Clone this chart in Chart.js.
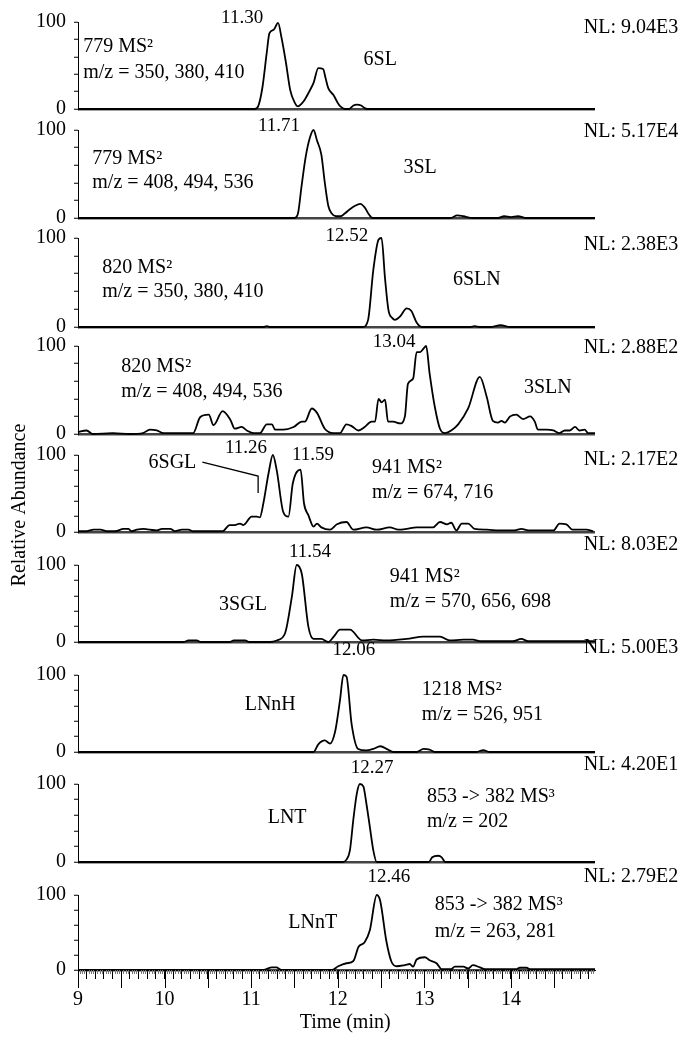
<!DOCTYPE html>
<html>
<head>
<meta charset="utf-8">
<script src="https://cdn.jsdelivr.net/npm/chart.js@4.4.1/dist/chart.umd.min.js"></script>
<style>
  html, body { margin: 0; padding: 0; background: #fff; }
  canvas { display: block; }
</style>
</head>
<body>
<canvas id="chrom" width="691" height="1044"></canvas>
<script>
// time axis (min)
const xMin = 9, xMax = 14.97;

// one trace per panel, top to bottom
const t6SL = [9, 11.04, 11.08, 11.13, 11.18, 11.21, 11.26, 11.31, 11.35, 11.40, 11.45, 11.50, 11.54, 11.58, 11.62, 11.67, 11.72, 11.775, 11.83, 11.86, 11.89, 11.95, 12.00, 12.03, 12.08, 12.13, 12.18, 12.22, 12.27, 12.31, 12.34, 14.97];
const a6SL = [0, 0, 3, 25, 65, 87, 91, 99, 82, 54, 22, 8, 3, 6, 11, 20, 30, 47, 46, 35, 24, 16, 7, 3, 0, 0, 4, 5, 4, 1, 0, 0];

const t3SL = [9, 11.50, 11.54, 11.58, 11.63, 11.68, 11.72, 11.76, 11.81, 11.85, 11.89, 11.93, 11.98, 12.03, 12.08, 12.14, 12.20, 12.26, 12.31, 12.36, 12.40, 13.30, 13.38, 13.45, 13.56, 13.85, 13.92, 14.00, 14.08, 14.18, 14.97];
const a3SL = [0, 0, 5, 35, 70, 92, 100, 88, 72, 40, 14, 5, 2, 2, 5, 10, 14, 16, 12, 4, 0, 0, 3, 2, 0, 0, 2, 1, 2, 0, 0];

const t6SLN = [9, 11.14, 11.18, 11.22, 12.29, 12.35, 12.41, 12.47, 12.505, 12.545, 12.585, 12.63, 12.66, 12.72, 12.795, 12.85, 12.91, 12.97, 13.53, 13.58, 13.64, 13.76, 13.88, 13.99, 14.97];
const a6SLN = [0, 0, 1, 0, 0, 8, 64, 98, 100, 55, 19, 10, 8, 12, 21, 18, 5, 0, 0, 1, 0, 0, 2, 0, 0];

const t3SLN = [9, 9.03, 9.10, 9.17, 9.40, 9.60, 9.75, 9.83, 9.91, 9.99,
  10.10, 10.33, 10.41, 10.51, 10.565, 10.67, 10.76, 10.81, 10.89, 10.95,
  11.03, 11.10, 11.18, 11.24, 11.275, 11.37, 11.49, 11.585, 11.62, 11.70,
  11.76, 11.85, 11.95, 12.025, 12.10, 12.16, 12.24, 12.31, 12.39, 12.43,
  12.47, 12.505, 12.545, 12.58, 12.64, 12.72, 12.775, 12.81, 12.87, 12.91,
  12.95, 12.99, 13.02, 13.06, 13.12, 13.18, 13.24, 13.31, 13.39, 13.505,
  13.64, 13.72, 13.79, 13.85, 13.89, 13.93, 13.99, 14.06, 14.14, 14.22,
  14.275, 14.31, 14.41, 14.49, 14.56, 14.62, 14.68, 14.74, 14.79, 14.85,
  14.89, 14.97];
const a3SLN = [2, 3, 4, 0, 1, 0, 1, 5, 4, 1,
  1, 1, 19, 22, 10, 26, 16, 6, 8, 4,
  1, 1, 11, 11, 5, 5, 8, 14, 14, 29,
  24, 6, 1, 1, 11, 9, 4, 8, 14, 14,
  40, 36, 39, 14, 14, 12, 20, 57, 63, 93,
  93, 97, 100, 69, 31, 6, 1, 4, 11, 29,
  65, 42, 15, 13, 15, 13, 20, 22, 17, 20,
  14, 5, 5, 4, 1, 4, 4, 8, 4, 5,
  1, 1];

const t6SGL = [9, 9.10, 9.18, 9.26, 9.33, 9.43, 9.525, 9.58, 9.62, 9.68,
  9.76, 9.83, 9.91, 9.97, 10.065, 10.12, 10.20, 10.275, 10.33, 10.67,
  10.75, 10.81, 10.87, 10.91, 11.005, 11.065, 11.10, 11.14, 11.20, 11.25,
  11.295, 11.37, 11.43, 11.48, 11.57, 11.61, 11.66, 11.72, 11.76, 11.81,
  11.91, 11.99, 12.10, 12.18, 12.33, 12.45, 12.60, 12.70, 12.795, 12.91,
  13.10, 13.18, 13.26, 13.31, 13.37, 13.43, 13.505, 13.58, 13.72, 13.87,
  14.04, 14.12, 14.20, 14.49, 14.56, 14.64, 14.71, 14.87, 14.95];
const a6SGL = [1, 1, 3, 3, 1, 1, 4, 4, 1, 3,
  4, 3, 2, 4, 4, 1, 3, 3, 1, 1,
  9, 9, 11, 9, 20, 20, 19, 37, 76, 100,
  80, 26, 20, 63, 81, 37, 22, 7, 11, 6,
  3, 10, 13, 3, 6, 3, 6, 3, 4, 6,
  6, 13, 10, 12, 2, 11, 11, 4, 3, 2,
  2, 4, 2, 2, 11, 10, 3, 3, 1];

const t3SGL = [9, 10.22, 10.275, 10.37, 10.42, 10.75, 10.80, 10.93, 10.98, 11.22,
  11.295, 11.39, 11.47, 11.525, 11.585, 11.66, 11.72, 11.81, 11.89, 11.96,
  12.025, 12.14, 12.28, 12.41, 12.56, 12.795, 12.99, 13.18, 13.29, 13.45,
  13.56, 13.64, 14.02, 14.12, 14.20, 14.97];
const a3SGL = [0, 0, 2, 2, 0, 0, 2, 2, 0, 0,
  2, 11, 59, 100, 88, 20, 4, 4, 0, 8,
  16, 16, 2, 3, 2, 4, 7, 7, 2, 3,
  3, 1, 1, 4, 1, 1];

const tLNnH = [9, 11.72, 11.775, 11.85, 11.91, 11.97, 12.025, 12.065, 12.10, 12.16, 12.235, 12.33, 12.41, 12.49, 12.58, 12.64, 12.91, 12.99, 13.06, 13.12, 13.60, 13.68, 13.75, 14.97];
const aLNnH = [0, 0, 10, 15, 11, 27, 67, 100, 98, 36, 4, 2, 4, 7.5, 3, 0, 0, 4, 3, 0, 0, 2.5, 0, 0];

const tLNT = [9, 12.06, 12.10, 12.14, 12.18, 12.22, 12.255, 12.295, 12.33, 12.37, 12.41, 12.45, 13.05, 13.09, 13.16, 13.20, 13.24, 14.97];
const aLNT = [0, 0, 3, 15, 55, 88, 100, 97, 75, 45, 15, 0, 0, 6, 8, 6, 0, 0];

const tLNnT = [9, 11.14, 11.24, 11.29, 11.35, 11.93, 12.005, 12.10, 12.18, 12.24,
  12.31, 12.37, 12.45, 12.49, 12.56, 12.62, 12.68, 12.775, 12.83, 12.87,
  12.91, 13.005, 13.06, 13.14, 13.20, 13.31, 13.35, 13.45, 13.505, 13.56,
  13.64, 13.70, 14.06, 14.10, 14.18, 14.22, 14.97];
const aLNnT = [0, 0, 3.5, 3.5, 0, 0, 5, 9, 12, 31,
  37, 53, 100, 92, 39, 11, 5, 6.6, 8, 4.4,
  14, 17, 13, 9, 1, 1, 4.4, 4.4, 2, 6.6,
  3.5, 1, 1, 3, 3, 1, 1];

const traces = [[t6SL, a6SL], [t3SL, a3SL], [t6SLN, a6SLN], [t3SLN, a3SLN], [t6SGL, a6SGL],
  [t3SGL, a3SGL], [tLNnH, aLNnH], [tLNT, aLNT], [tLNnT, aLNnT]];

// texts
const names = ['6SL', '3SL', '6SLN', '3SLN', '6SGL', '3SGL', 'LNnH', 'LNT', 'LNnT'];
const nlLabels = ['NL: 9.04E3', 'NL: 5.17E4', 'NL: 2.38E3', 'NL: 2.88E2', 'NL: 2.17E2',
  'NL: 8.03E2', 'NL: 5.00E3', 'NL: 4.20E1', 'NL: 2.79E2'];
const scanLines = [
  ['779 MS²', 'm/z = 350, 380, 410'],
  ['779 MS²', 'm/z = 408, 494, 536'],
  ['820 MS²', 'm/z = 350, 380, 410'],
  ['820 MS²', 'm/z = 408, 494, 536'],
  ['941 MS²', 'm/z = 674, 716'],
  ['941 MS²', 'm/z = 570, 656, 698'],
  ['1218 MS²', 'm/z = 526, 951'],
  ['853 -> 382 MS³', 'm/z = 202'],
  ['853 -> 382 MS³', 'm/z = 263, 281']
];
const peakLabels = ['11.30', '11.71', '12.52', '13.04', '11.26', '11.59', '11.54', '12.06', '12.27', '12.46'];

// where the texts sit (panel, time, relative value)
const peakAt = [[0, 10.895, 104.6], [1, 11.32, 104.5], [2, 12.106, 102.2], [3, 12.65, 104.5], [4, 10.94, 109.1],
  [4, 11.713, 100], [5, 11.68, 116.9], [6, 12.187, 132.5], [7, 12.395, 120.5], [8, 12.59, 124]];
const nameAt = [[12.49, 56.3], [12.95, 56.8], [13.605, 52.8], [14.425, 52.3], [10.09, 89.6],
  [10.905, 48.1], [11.22, 61.0], [11.415, 56.4], [11.71, 62.7]];
const scanAt = [[9.06, 71.3, 41.4], [9.165, 67.0, 39.8], [9.28, 66.3, 39.3], [9.50, 76.1, 47.7], [12.395, 83.1, 50.6],
  [12.60, 84.4, 51.9], [12.97, 80.5, 48.1], [13.03, 83.3, 51.3], [13.12, 86.7, 50.7]];
const nlAt = [93.1, 97.7, 92.1, 97.7, 93.5, 126, 135, 124.4, 124];
const leader6SGL = [[10.436, 90.9], [11.08, 72.7], [11.08, 50.6]];

// panel heights and gaps (stack weights)
const panelH = [87, 88, 89, 88, 77, 77, 77, 78, 75];
const gapH = [21, 20, 19, 21, 33, 33, 32, 33];

const serif = '"Liberation Serif", "Times New Roman", serif';
Chart.defaults.font.family = serif;
Chart.defaults.font.size = 20;
Chart.defaults.color = '#000';

const scales = {
  x: {
    type: 'linear',
    min: xMin,
    max: xMax,
    afterFit: (s) => { s.height = 69; },
    border: { display: true, color: '#000', width: 1 },
    grid: { drawOnChartArea: false, tickLength: 9, tickColor: '#000', tickWidth: 1 },
    ticks: {
      stepSize: 0.1,
      includeBounds: false,
      autoSkip: false,
      maxRotation: 0,
      padding: 9,
      callback: (v) => Math.abs(v - Math.round(v)) < 1e-6 ? String(Math.round(v)) : ''
    }
  }
};

panelH.forEach((h, i) => {
  scales['y' + i] = {
    type: 'linear',
    position: 'left',
    stack: 'panels',
    stackWeight: h,
    weight: 100 - 2 * i,
    min: 0,
    max: 100,
    afterFit: (s) => { s.width = 74; },
    border: { display: true, color: '#000', width: 1 },
    grid: {
      color: (c) => (c.tick && c.tick.value === 0) ? '#444' : 'rgba(0,0,0,0)',
      lineWidth: 2.5,
      tickColor: '#000',
      tickWidth: 1,
      tickLength: 4
    },
    ticks: {
      stepSize: 20,
      autoSkip: false,
      padding: 8,
      callback: (v) => (v === 0 || v === 100) ? String(v) : ''
    }
  };
  if (i < gapH.length) {
    scales['g' + i] = {
      type: 'linear',
      position: 'left',
      stack: 'panels',
      stackWeight: gapH[i],
      weight: 99 - 2 * i,
      afterFit: (s) => { s.width = 74; },
      border: { display: false },
      grid: { display: false },
      ticks: { display: false }
    };
  }
});

const datasets = traces.map(([t, a], i) => ({
  label: names[i],
  data: t.map((x, k) => ({ x: x, y: a[k] })),
  xAxisID: 'x',
  yAxisID: 'y' + i,
  borderColor: '#000',
  borderWidth: 1.8,
  pointRadius: 0,
  fill: false,
  cubicInterpolationMode: 'monotone',
  clip: false
}));

const textPlugin = {
  id: 'chromText',
  afterDraw(chart) {
    const ctx = chart.ctx;
    const x = chart.scales.x;
    const py = (p, v) => chart.scales['y' + p].getPixelForValue(v);
    const px = (t) => x.getPixelForValue(t);
    const bottom = chart.chartArea.bottom;

    ctx.save();
    // extra ticks on the time axis
    ctx.lineWidth = 1;
    for (let k = 0; k * 0.025 + xMin <= xMax + 1e-9; k++) {
      const t = xMin + k * 0.025;
      if (k % 4 === 0 && k % 20 !== 0) continue;
      const len = (k % 20 === 0) ? 18 : 4;
      const xx = Math.round(px(t)) + 0.5;
      ctx.strokeStyle = (k % 20 === 0) ? '#000' : '#777';
      ctx.beginPath();
      ctx.moveTo(xx, bottom);
      ctx.lineTo(xx, bottom + len);
      ctx.stroke();
    }

    ctx.fillStyle = '#000';
    ctx.textBaseline = 'middle';
    ctx.font = '20px ' + serif;

    names.forEach((n, i) => {
      ctx.textAlign = 'center';
      ctx.fillText(n, px(nameAt[i][0]), py(i, nameAt[i][1]));
      ctx.textAlign = 'left';
      ctx.fillText(scanLines[i][0], px(scanAt[i][0]), py(i, scanAt[i][1]));
      ctx.fillText(scanLines[i][1], px(scanAt[i][0]), py(i, scanAt[i][2]));
      ctx.fillText(nlLabels[i], px(14.84), py(i, nlAt[i]));
    });

    ctx.font = '19px ' + serif;
    ctx.textAlign = 'center';
    peakLabels.forEach((s, i) => {
      const [p, t, v] = peakAt[i];
      ctx.fillText(s, px(t), py(p, v));
    });

    // leader line for 6SGL
    ctx.strokeStyle = '#000';
    ctx.lineWidth = 1.3;
    ctx.beginPath();
    leader6SGL.forEach(([t, v], k) => {
      if (k === 0) ctx.moveTo(px(t), py(4, v));
      else ctx.lineTo(px(t), py(4, v));
    });
    ctx.stroke();

    // axis titles
    ctx.font = '20px ' + serif;
    ctx.textAlign = 'center';
    ctx.fillText('Time (min)', px(12.085), bottom + 53);
    ctx.translate(chart.chartArea.left - 58.5, py(4, 35));
    ctx.rotate(-Math.PI / 2);
    ctx.fillText('Relative Abundance', 0, 0);
    ctx.restore();
  }
};

new Chart(document.getElementById('chrom'), {
  type: 'line',
  data: { datasets: datasets },
  options: {
    responsive: false,
    animation: false,
    devicePixelRatio: 1,
    layout: { padding: { left: 4, right: 96, top: 22, bottom: 5 } },
    plugins: { legend: { display: false }, tooltip: { enabled: false } },
    scales: scales
  },
  plugins: [textPlugin]
});
</script>
</body>
</html>
